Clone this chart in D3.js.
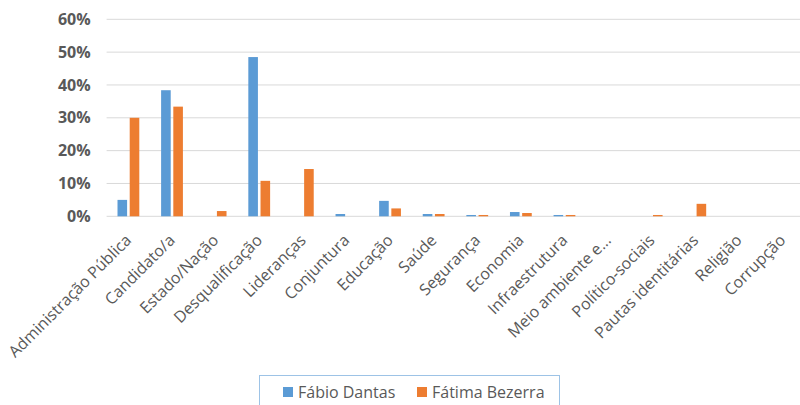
<!DOCTYPE html>
<html>
<head>
<meta charset="utf-8">
<script src="https://cdn.jsdelivr.net/npm/d3@7/dist/d3.min.js"></script>
<style>
  html, body { margin: 0; padding: 0; background: #fff; }
  svg { display: block; }
</style>
</head>
<body>
<svg id="chart" width="800" height="405"></svg>
<script>
// Topic categories and share of mentions for each candidate (percent)
const categories = [
  "Administração Pública", "Candidato/a", "Estado/Nação", "Desqualificação",
  "Lideranças", "Conjuntura", "Educação", "Saúde", "Segurança", "Economia",
  "Infraestrutura", "Meio ambiente e...", "Político-sociais",
  "Pautas identitárias", "Religião", "Corrupção"
];
const fabioDantas = [5.0, 38.4, 0, 48.5, 0, 0.7, 4.7, 0.7, 0.4, 1.3, 0.4, 0, 0, 0, 0, 0];
const fatimaBezerra = [30.0, 33.4, 1.6, 10.8, 14.4, 0, 2.4, 0.7, 0.4, 1.0, 0.4, 0, 0.4, 3.8, 0, 0];
const seriesNames = ["Fábio Dantas", "Fátima Bezerra"];
const seriesColors = ["#5B9BD5", "#ED7D31"];
const yTicks = [0, 10, 20, 30, 40, 50, 60];

const svg = d3.select("#chart");
const plot = { left: 106.6, right: 804.3, top: 19.3, bottom: 216.3 };

const x = d3.scaleBand()
  .domain(categories)
  .range([plot.left, plot.right])
  .paddingInner(0).paddingOuter(0);

const y = d3.scaleLinear()
  .domain([0, 60])
  .range([plot.bottom, plot.top]);

// Horizontal gridlines
svg.append("g")
  .selectAll("line")
  .data(yTicks)
  .join("line")
  .attr("x1", plot.left)
  .attr("x2", 800)
  .attr("y1", d => y(d))
  .attr("y2", d => y(d))
  .attr("stroke", "#D9D9D9")
  .attr("stroke-width", 1);

// Y axis labels
const yAxis = d3.axisLeft(y)
  .tickValues(yTicks)
  .tickFormat(d => d + "%")
  .tickSize(0)
  .tickPadding(0);
const yg = svg.append("g")
  .attr("transform", `translate(${plot.left - 16},0)`)
  .call(yAxis);
yg.select(".domain").remove();
yg.selectAll("text")
  .attr("font-family", "'Open Sans', sans-serif")
  .attr("font-weight", 700)
  .attr("font-size", 16)
  .attr("fill", "#595959");

// Bars
const barW = 9.6, gap = 2.6;
const series = [fabioDantas, fatimaBezerra];
series.forEach((vals, si) => {
  svg.append("g")
    .selectAll("rect")
    .data(vals.map((v, i) => ({ v, c: categories[i] })).filter(d => d.v > 0))
    .join("rect")
    .attr("x", d => x(d.c) + x.bandwidth() / 2 + (si === 0 ? -(barW + gap / 2) : gap / 2))
    .attr("y", d => y(d.v))
    .attr("width", barW)
    .attr("height", d => y(0) - y(d.v))
    .attr("fill", seriesColors[si]);
});

// Category labels, rotated
const xAxis = d3.axisBottom(x).tickSize(0).tickPadding(0);
const xg = svg.append("g")
  .attr("transform", `translate(0,${plot.bottom})`)
  .call(xAxis);
xg.select(".domain").remove();
xg.selectAll("text")
  .attr("font-family", "'Open Sans', sans-serif")
  .attr("font-size", 16)
  .attr("fill", "#595959")
  .attr("text-anchor", "end")
  .attr("dy", null)
  .attr("y", 0)
  .attr("transform", "translate(4,25) rotate(-45)");

// Legend
const lg = svg.append("g");
lg.append("rect")
  .attr("x", 259.5).attr("y", 375.5)
  .attr("width", 300).attr("height", 40)
  .attr("fill", "#fff")
  .attr("stroke", "#9DC3E6")
  .attr("stroke-width", 1);
const legendItems = [
  { name: seriesNames[0], color: seriesColors[0], sx: 283, tx: 298 },
  { name: seriesNames[1], color: seriesColors[1], sx: 417, tx: 432 }
];
legendItems.forEach(it => {
  lg.append("rect")
    .attr("x", it.sx).attr("y", 387)
    .attr("width", 10).attr("height", 10)
    .attr("fill", it.color);
  lg.append("text")
    .attr("x", it.tx).attr("y", 398)
    .attr("font-family", "'Open Sans', sans-serif")
    .attr("font-size", 16)
    .attr("fill", "#595959")
    .text(it.name);
});
</script>
</body>
</html>
